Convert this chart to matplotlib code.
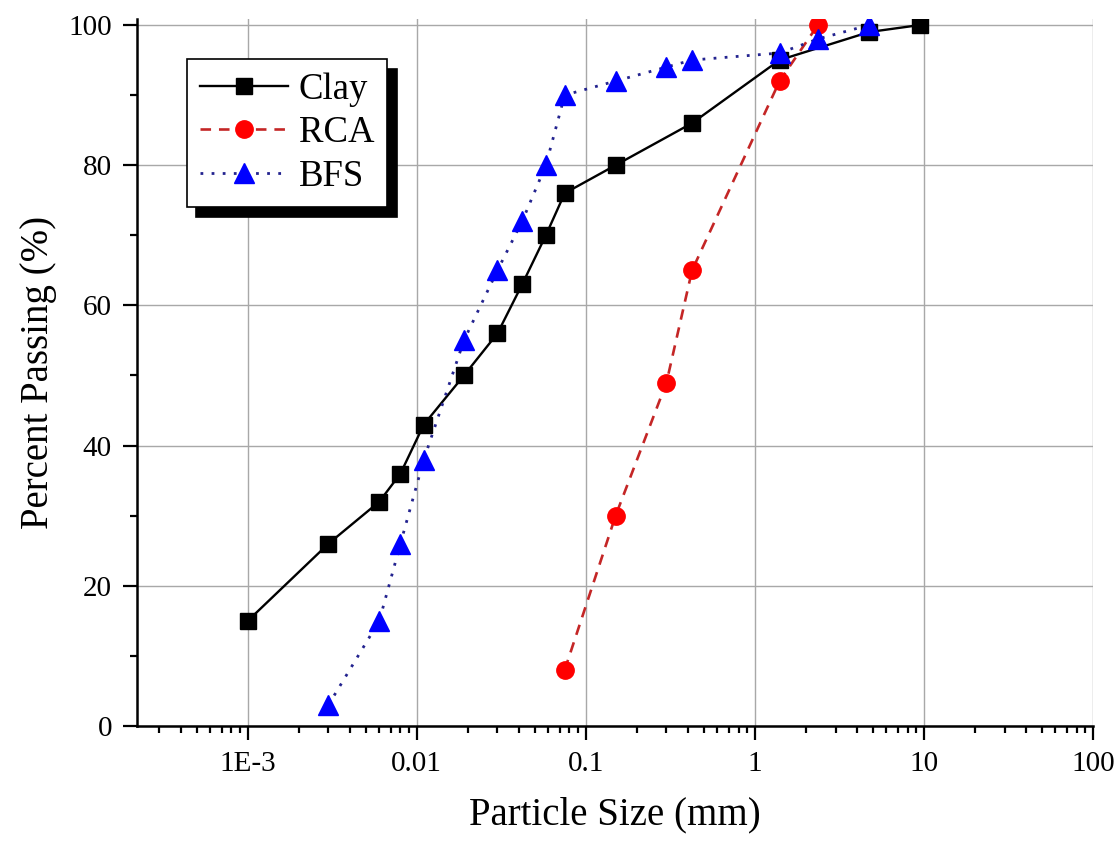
import matplotlib
matplotlib.use("Agg")
import matplotlib.pyplot as plt
from matplotlib.ticker import LogLocator, FixedLocator, MultipleLocator, FuncFormatter, NullFormatter

plt.rcParams['font.family'] = ['Liberation Serif', 'DejaVu Serif']

# grain size distribution (size in mm, percent passing)
clay_size = [0.001, 0.003, 0.006, 0.008, 0.011, 0.019, 0.03, 0.042, 0.058, 0.075, 0.15, 0.425, 1.4, 4.75, 9.5]
clay_pass = [15, 26, 32, 36, 43, 50, 56, 63, 70, 76, 80, 86, 95, 99, 100]

rca_size = [0.075, 0.15, 0.3, 0.425, 1.4, 2.36]
rca_pass = [8, 30, 49, 65, 92, 100]

bfs_size = [0.003, 0.006, 0.008, 0.011, 0.019, 0.03, 0.042, 0.058, 0.075, 0.15, 0.3, 0.425, 1.4, 2.36, 4.75]
bfs_pass = [3, 15, 26, 38, 55, 65, 72, 80, 90, 92, 94, 95, 96, 98, 100]

x_ticks = [1e-3, 0.01, 0.1, 1, 10, 100]
x_ticklabels = ["1E-3", "0.01", "0.1", "1", "10", "100"]

fig = plt.figure(figsize=(11.18, 8.43), dpi=100)
ax = fig.add_axes([0.1225, 0.1388, 0.8551, 0.8387])

ax.plot(clay_size, clay_pass, color='black', lw=1.7, marker='s', ms=11,
        mfc='black', mec='black', label='Clay', zorder=3)
ax.plot(rca_size, rca_pass, color='#c42626', lw=1.9, dashes=(4, 3), marker='o', ms=12.5,
        mfc='#ff0000', mec='#ff0000', label='RCA', zorder=4)
ax.plot(bfs_size, bfs_pass, color='#23238f', lw=2.0, dashes=(1, 3), marker='^', ms=14,
        mfc='#0000ff', mec='#0000ff', label='BFS', zorder=5)

ax.set_xscale('log')
ax.set_xlim(2.21e-4, 100)
ax.set_ylim(0, 100.86)

ax.xaxis.set_major_locator(FixedLocator(x_ticks))
ax.xaxis.set_major_formatter(FuncFormatter(lambda v, p: x_ticklabels[x_ticks.index(v)] if v in x_ticks else ""))
ax.xaxis.set_minor_locator(LogLocator(base=10, subs=range(2, 10), numticks=20))
ax.xaxis.set_minor_formatter(NullFormatter())
ax.yaxis.set_major_locator(MultipleLocator(20))
ax.yaxis.set_minor_locator(MultipleLocator(10))

ax.grid(True, which='major', color='#a8a8a8', lw=1.0)
ax.set_axisbelow(True)

for s in ['top', 'right']:
    ax.spines[s].set_visible(False)
for s in ['left', 'bottom']:
    ax.spines[s].set_linewidth(1.8)

ax.tick_params(which='major', length=10, width=1.6, labelsize=21, direction='out')
ax.tick_params(which='minor', length=5, width=1.6, direction='out')
ax.tick_params(axis='y', which='major', pad=8)
ax.tick_params(axis='x', which='major', pad=8)

ax.set_xlabel("Particle Size (mm)", fontsize=28, labelpad=14)
ax.set_ylabel("Percent Passing (%)", fontsize=28, labelpad=8)

leg = ax.legend(loc='upper left', bbox_to_anchor=(0.052, 0.943), borderaxespad=0,
                fontsize=26.5, frameon=True, fancybox=False, framealpha=1,
                edgecolor='black', handlelength=2.4, handletextpad=0.3,
                labelspacing=0.25, borderpad=0.35,
                shadow={'ox': 7, 'oy': -7, 'color': 'black', 'alpha': 1})
leg.get_frame().set_linewidth(1.2)

fig.savefig("out.png", dpi=100)
